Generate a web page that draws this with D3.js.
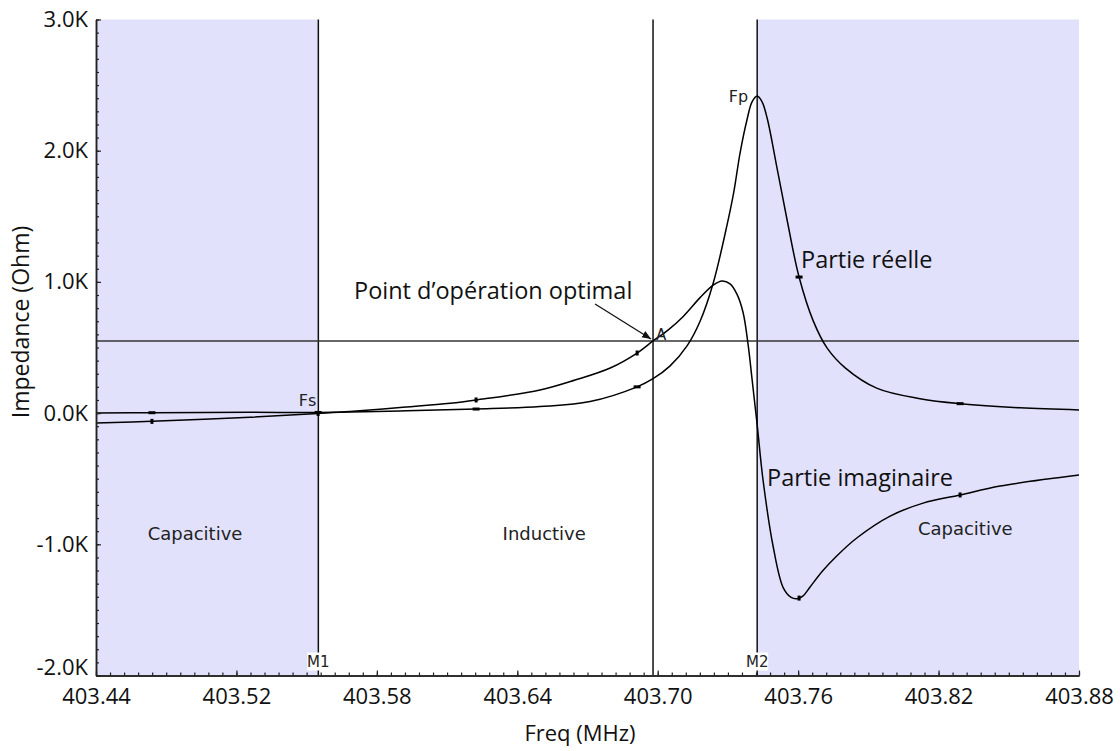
<!DOCTYPE html>
<html>
<head>
<meta charset="utf-8">
<script src="https://cdn.jsdelivr.net/npm/d3@7"></script>
<style>
  body { margin: 0; background: #fff; }
  svg { display: block; }
</style>
</head>
<body>
<svg id="chart" width="1120" height="751"></svg>
<script>
// Crystal impedance around its resonances (MHz, Ohm)
const freqReal = [403.4600, 403.4839, 403.5258, 403.5549, 403.5899, 403.6224, 403.6497, 403.6711,
                  403.6912, 403.6980, 403.7053, 403.7126, 403.7181, 403.7237, 403.7297, 403.7325,
                  403.7352, 403.7382, 403.7403, 403.7425, 403.7446, 403.7468, 403.7510, 403.7553,
                  403.7604, 403.7664, 403.7724, 403.7801, 403.7938, 403.8121, 403.8292, 403.8549,
                  403.8800];
const zReal = [0, 3, 6, 5, 16, 31, 50, 88,
               200, 262, 360, 514, 700, 990, 1440, 1684,
               1984, 2240, 2372, 2417, 2372, 2245, 1865, 1470,
               1037, 705, 495, 345, 188, 110, 72, 40,
               24];

const freqImag = [403.4600, 403.4839, 403.5258, 403.5549, 403.5685, 403.5899, 403.6113, 403.6224,
                  403.6497, 403.6647, 403.6797, 403.6912, 403.6980, 403.7044, 403.7108, 403.7181,
                  403.7237, 403.7275, 403.7309, 403.7339, 403.7365, 403.7386, 403.7403, 403.7425,
                  403.7450, 403.7493, 403.7536, 403.7570, 403.7595, 403.7620, 403.7651, 403.7706,
                  403.7767, 403.7852, 403.7993, 403.8134, 403.8292, 403.8463, 403.8800];
const zImag = [-75, -63, -32, -3, 12, 43, 75, 100,
               176, 252, 344, 458, 550, 633, 735, 880,
               975, 1007, 985, 905, 765, 525, 260, -90,
               -510, -1015, -1330, -1405, -1415, -1395, -1325, -1200,
               -1085, -950, -785, -686, -624, -556, -472];

// Sweep markers on both traces
const markerFreqs = [403.4839, 403.5549, 403.6224, 403.6912, 403.7604, 403.8292];
const markerReal  = [3, 5, 31, 200, 1037, 72];
const markerImag  = [-63, -3, 100, 458, -1410, -624];

// Axes
const xDomain = [403.46, 403.88];
const yDomain = [-2000, 3000];
const xTickValues = [403.46, 403.52, 403.58, 403.64, 403.70, 403.76, 403.82, 403.88];
const xTickLabels = ["403.44", "403.52", "403.58", "403.64", "403.70", "403.76", "403.82", "403.88"];
const yTickValues = [-2000, -1000, 0, 1000, 2000, 3000];
const yTickLabels = ["-2.0K", "-1.0K", "0.0K", "1.0K", "2.0K", "3.0K"];

// Markers: series resonance, operating point, parallel resonance
const fSeries = 403.555;
const fOperating = 403.698;
const fParallel = 403.7425;
const zOperating = 550;

const svg = d3.select("#chart");
const plot = { left: 96, right: 1079, top: 19.5, bottom: 675.5 };

const x = d3.scaleLinear().domain(xDomain).range([plot.left, plot.right]);
const y = d3.scaleLinear().domain(yDomain).range([plot.bottom, plot.top]);

const sansBig = "'Open Sans', 'Noto Sans', sans-serif";
const sansSmall = "'DejaVu Sans', Verdana, sans-serif";

// Capacitive zones
svg.append("rect")
  .attr("x", x(xDomain[0])).attr("y", y(yDomain[1]))
  .attr("width", x(fSeries) - x(xDomain[0]))
  .attr("height", y(yDomain[0]) - y(yDomain[1]))
  .attr("fill", "#e1e1fc");
svg.append("rect")
  .attr("x", x(fParallel)).attr("y", y(yDomain[1]))
  .attr("width", x(xDomain[1]) - x(fParallel))
  .attr("height", y(yDomain[0]) - y(yDomain[1]))
  .attr("fill", "#e1e1fc");

// Region labels
const regionText = svg.append("g")
  .attr("font-family", sansSmall).attr("font-size", 18).attr("fill", "#222")
  .attr("text-anchor", "middle");
regionText.append("text").attr("x", x(403.5023)).attr("y", y(-967)).text("Capacitive");
regionText.append("text").attr("x", x(403.6515)).attr("y", y(-967)).text("Inductive");
regionText.append("text").attr("x", x(403.8314)).attr("y", y(-929)).text("Capacitive");

// Vertical marker lines
[fSeries, fOperating, fParallel].forEach(f => {
  svg.append("line")
    .attr("x1", x(f)).attr("x2", x(f))
    .attr("y1", y(yDomain[1])).attr("y2", y(yDomain[0]))
    .attr("stroke", "#111").attr("stroke-width", 1.5);
});

// Operating level
svg.append("line")
  .attr("x1", x(xDomain[0])).attr("x2", x(xDomain[1]))
  .attr("y1", y(zOperating)).attr("y2", y(zOperating))
  .attr("stroke", "#333").attr("stroke-width", 1.5);

// Curves
svg.append("clipPath").attr("id", "plotClip")
  .append("rect")
  .attr("x", plot.left).attr("y", plot.top)
  .attr("width", plot.right - plot.left).attr("height", plot.bottom - plot.top);

const line = d3.line()
  .x(d => x(d[0])).y(d => y(d[1]))
  .curve(d3.curveCatmullRom.alpha(0.5));

const curves = svg.append("g").attr("clip-path", "url(#plotClip)");
curves.append("path")
  .datum(d3.zip(freqReal, zReal))
  .attr("d", line)
  .attr("fill", "none").attr("stroke", "#000").attr("stroke-width", 1.5);
curves.append("path")
  .datum(d3.zip(freqImag, zImag))
  .attr("d", line)
  .attr("fill", "none").attr("stroke", "#000").attr("stroke-width", 1.5);

// Sweep markers
curves.selectAll("rect.mr")
  .data(d3.zip(markerFreqs, markerReal))
  .join("rect").attr("class", "mr")
  .attr("x", d => x(d[0]) - 3.5).attr("y", d => y(d[1]) - 1.5)
  .attr("width", 7).attr("height", 3).attr("fill", "#000");
curves.selectAll("rect.mi")
  .data(d3.zip(markerFreqs, markerImag))
  .join("rect").attr("class", "mi")
  .attr("x", d => x(d[0]) - 1.5).attr("y", d => y(d[1]) - 2.5)
  .attr("width", 3).attr("height", 5).attr("fill", "#000");

// Axes
const yAxis = d3.axisLeft(y)
  .tickValues(yTickValues)
  .tickFormat((d, i) => yTickLabels[i])
  .tickSizeInner(-5).tickSizeOuter(0).tickPadding(8);
const yMinor = d3.axisLeft(y)
  .tickValues(d3.range(yDomain[0], yDomain[1] + 1, 100))
  .tickFormat("").tickSizeInner(-3).tickSizeOuter(0);
const xAxis = d3.axisBottom(x)
  .tickValues(xTickValues)
  .tickFormat((d, i) => xTickLabels[i])
  .tickSizeInner(-5).tickSizeOuter(0).tickPadding(9);
const xMinor = d3.axisBottom(x)
  .tickValues(d3.range(0, 71).map(i => xDomain[0] + i * 0.006))
  .tickFormat("").tickSizeInner(-3).tickSizeOuter(0);

function styleAxis(g) {
  g.select(".domain").attr("stroke", "#222").attr("stroke-width", 1.5);
  g.selectAll(".tick line").attr("stroke", "#222").attr("stroke-width", 1.2);
  g.selectAll(".tick text")
    .attr("font-family", sansBig).attr("font-size", 22).attr("fill", "#111");
}
svg.append("g").attr("transform", `translate(${plot.left},0)`).call(yMinor).call(styleAxis);
const yAxisG = svg.append("g").attr("transform", `translate(${plot.left},0)`).call(yAxis).call(styleAxis);
// lowest label sits just above the corner so it clears the frequency labels
yAxisG.selectAll(".tick text").filter(d => d === yDomain[0]).attr("dy", "-0.05em");
svg.append("g").attr("transform", `translate(0,${plot.bottom})`).call(xMinor).call(styleAxis);
svg.append("g").attr("transform", `translate(0,${plot.bottom})`).call(xAxis).call(styleAxis)
  .selectAll(".tick text").attr("dy", "0.9em");

// Marker tags with white background
[["M1", fSeries], ["M2", fParallel]].forEach(([name, f]) => {
  const g = svg.append("g").attr("transform", `translate(${x(f)},${plot.bottom - 9})`);
  g.append("rect").attr("x", -11).attr("y", -14).attr("width", 22).attr("height", 18).attr("fill", "#fff");
  g.append("text").attr("text-anchor", "middle")
    .attr("font-family", sansSmall).attr("font-size", 15).attr("fill", "#222")
    .text(name);
});

// Resonance labels
svg.append("text").attr("x", x(fSeries) - 2).attr("y", y(zReal[3]) - 6)
  .attr("text-anchor", "end").attr("font-family", sansSmall).attr("font-size", 16).attr("fill", "#222")
  .text("Fs");
svg.append("text").attr("x", x(fParallel) - 9).attr("y", y(d3.max(zReal)) + 6)
  .attr("text-anchor", "end").attr("font-family", sansSmall).attr("font-size", 16).attr("fill", "#222")
  .text("Fp");
svg.append("text").attr("x", x(fOperating) + 3).attr("y", y(zOperating) - 1)
  .attr("font-family", sansSmall).attr("font-size", 15).attr("fill", "#222")
  .text("A");

// Series labels
const bigText = svg.append("g").attr("font-family", sansBig).attr("font-size", 23.5).attr("fill", "#111");
bigText.append("text").attr("x", 801).attr("y", 268).text("Partie réelle");
bigText.append("text").attr("x", 767).attr("y", 486).text("Partie imaginaire");
bigText.append("text").attr("x", 354).attr("y", 299).text("Point d’opération optimal");

// Arrow to the operating point
svg.append("defs").append("marker")
  .attr("id", "arrowHead").attr("viewBox", "0 0 10 10")
  .attr("refX", 10).attr("refY", 5)
  .attr("markerWidth", 9).attr("markerHeight", 9)
  .attr("markerUnits", "userSpaceOnUse")
  .attr("orient", "auto")
  .append("path").attr("d", "M0,1 L10,5 L0,9 Z").attr("fill", "#111");
svg.append("line")
  .attr("x1", x(fOperating) - 58).attr("y1", y(zOperating) - 37)
  .attr("x2", x(fOperating) - 2).attr("y2", y(zOperating) - 2)
  .attr("stroke", "#111").attr("stroke-width", 1.3)
  .attr("marker-end", "url(#arrowHead)");

// Axis titles
svg.append("text")
  .attr("transform", `translate(29,322) rotate(-90)`)
  .attr("text-anchor", "middle")
  .attr("font-family", sansBig).attr("font-size", 23).attr("fill", "#111")
  .text("Impedance (Ohm)");
svg.append("text")
  .attr("x", 580).attr("y", 741)
  .attr("text-anchor", "middle")
  .attr("font-family", sansBig).attr("font-size", 22).attr("fill", "#111")
  .text("Freq (MHz)");
</script>
</body>
</html>
